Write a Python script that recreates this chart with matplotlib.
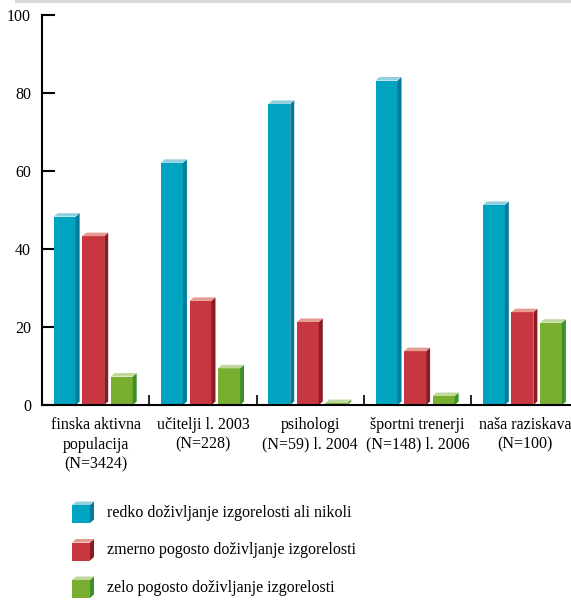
import matplotlib
matplotlib.use('Agg')
import matplotlib.pyplot as plt
from matplotlib.patches import Polygon, Rectangle
import numpy as np

# burnout frequency by group (%)
categories = ['finska aktivna\npopulacija\n(N=3424)', 'učitelji l. 2003\n(N=228)',
              'psihologi\n(N=59) l. 2004', 'športni trenerji\n(N=148) l. 2006',
              'naša raziskava\n(N=100)']
redko = [48.3, 62.1, 77.2, 83.2, 51.3]
zmerno = [43.3, 26.7, 21.3, 13.8, 23.8]
zelo = [7.3, 9.4, 0.5, 2.3, 21.1]
series_labels = ['redko doživljanje izgorelosti ali nikoli',
                 'zmerno pogosto doživljanje izgorelosti',
                 'zelo pogosto doživljanje izgorelosti']
y_ticks = [0, 20, 40, 60, 80, 100]

# front, side, top shades for each series
shades = [('#00a3c0', '#007b98', '#93d0df'),
          ('#c8363f', '#8c1a22', '#e49c92'),
          ('#7aae30', '#3d8f2a', '#bfd99c')]

plt.rcParams['font.family'] = ['Liberation Serif', 'DejaVu Serif']
plt.rcParams['font.size'] = 11.5

fig = plt.figure(figsize=(5.71, 6.0), dpi=100)
ax = fig.add_axes([0.0736, 0.325, 0.9264, 0.65])
ax.set_xlim(-0.5, 4.43)
ax.set_ylim(0, 100)

bar_w = 0.205
step = 0.266
shift = -0.023
# 3d offset in data units (about 4 px right, 3.5 px up)
dx, dy = 0.037, 0.9

x = np.arange(len(categories))
for k, vals in enumerate([redko, zmerno, zelo]):
    front, side, top = shades[k]
    xs = x + (k - 1) * step + shift
    ax.bar(xs, vals, width=bar_w, color=front, edgecolor='none', zorder=3)
    for xc, v in zip(xs, vals):
        x0, x1 = xc - bar_w / 2, xc + bar_w / 2
        ax.add_patch(Polygon([(x1, 0), (x1 + dx, dy), (x1 + dx, v + dy), (x1, v)],
                             closed=True, facecolor=side, edgecolor='none', zorder=3))
        ax.add_patch(Polygon([(x0, v), (x0 + dx, v + dy), (x1 + dx, v + dy), (x1, v)],
                             closed=True, facecolor=top, edgecolor='none', zorder=3))

for s in ['top', 'right']:
    ax.spines[s].set_visible(False)
for s in ['left', 'bottom']:
    ax.spines[s].set_linewidth(1.5)
    ax.spines[s].set_zorder(4)

ax.set_yticks(y_ticks)
ax.tick_params(axis='y', direction='in', length=9.5, width=1.5, pad=8, labelsize=11.5)
ax.set_xticks(np.arange(len(categories) - 1) + 0.5)
ax.set_xticklabels([])
ax.tick_params(axis='x', direction='in', length=7.5, width=1.2)

for i, lab in enumerate(categories):
    ax.text(i, -3.0, lab, ha='center', va='top', fontsize=11.5, linespacing=1.32,
            transform=ax.transData, clip_on=False)

# grey strip along the top edge
fig.patches.append(Rectangle((15 / 571, 1 - 3 / 600), 1, 3 / 600, transform=fig.transFigure,
                             facecolor='#d9d9db', edgecolor='none'))

# legend drawn in pixel coordinates
lg = fig.add_axes([0, 0, 1, 1])
lg.set_xlim(0, 571)
lg.set_ylim(600, 0)
lg.axis('off')
lg.patch.set_alpha(0)
for k, lab in enumerate(series_labels):
    front, side, top = shades[k]
    yc = 513 + k * 37.5
    x0, x1 = 72, 90
    y0, y1 = yc - 8, yc + 10
    lg.add_patch(Rectangle((x0, y0), x1 - x0, y1 - y0, facecolor=front, edgecolor='none'))
    lg.add_patch(Polygon([(x1, y1), (x1 + 4, y1 - 3.5), (x1 + 4, y0 - 3.5), (x1, y0)],
                         closed=True, facecolor=side, edgecolor='none'))
    lg.add_patch(Polygon([(x0, y0), (x0 + 4, y0 - 3.5), (x1 + 4, y0 - 3.5), (x1, y0)],
                         closed=True, facecolor=top, edgecolor='none'))
    lg.text(107, yc, lab, ha='left', va='center', fontsize=11.5)

fig.savefig('out.png', dpi=100)
